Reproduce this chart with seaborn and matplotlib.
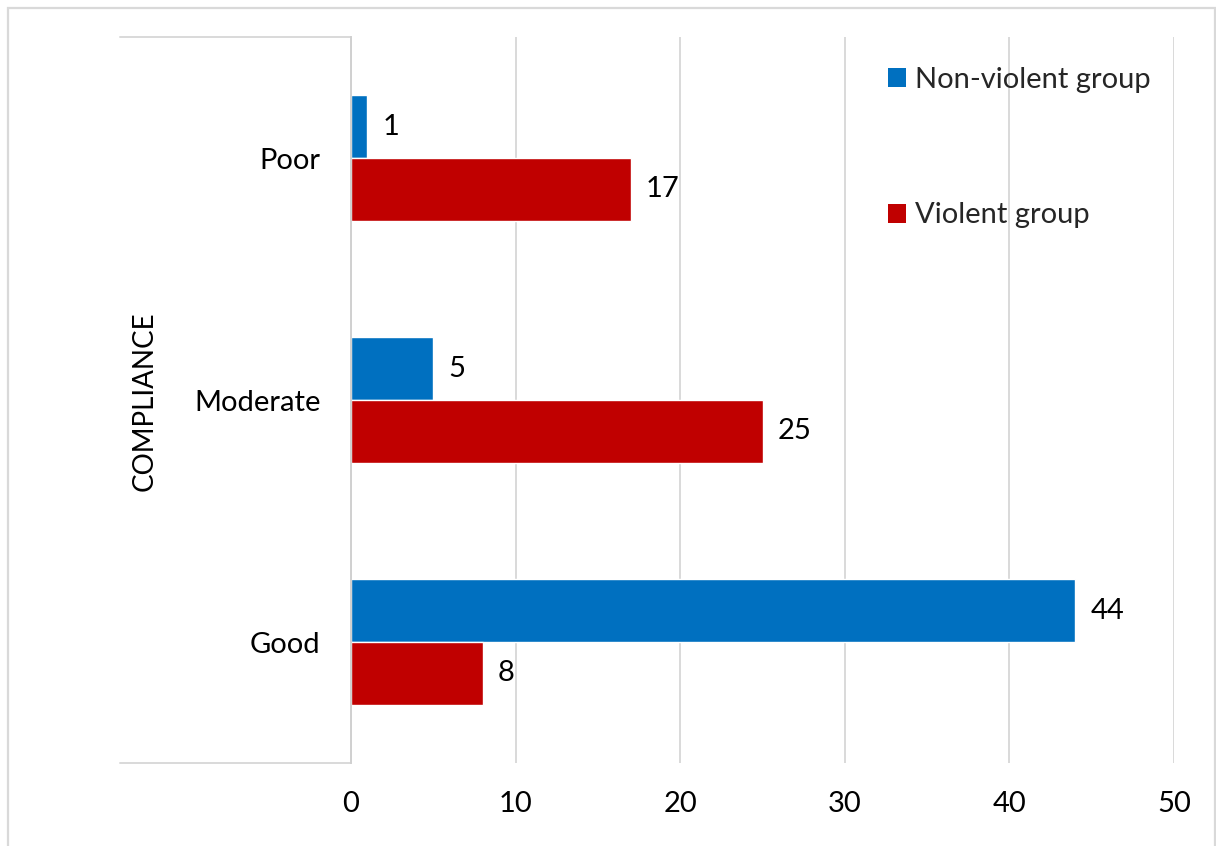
import matplotlib
matplotlib.use("Agg")
import matplotlib.pyplot as plt
import matplotlib.patches as mpatches
import matplotlib.lines as mlines
import seaborn as sns
import pandas as pd

# Compliance levels, listed top to bottom
categories = ["Poor", "Moderate", "Good"]
non_violent = [1, 5, 44]
violent = [17, 25, 8]
groups = ["Non-violent group", "Violent group"]
x_ticks = [0, 10, 20, 30, 40, 50]

colors = {"Non-violent group": "#0070C0", "Violent group": "#C00000"}

df = pd.DataFrame({
    "Compliance": categories * 2,
    "Count": non_violent + violent,
    "Group": [groups[0]] * len(categories) + [groups[1]] * len(categories),
})

sns.set_theme(style="white")
plt.rcParams["font.family"] = ["Lato", "DejaVu Sans"]
FS = 21

fig = plt.figure(figsize=(12.16, 8.46), dpi=100)
ax = fig.add_axes([351 / 1216, 1 - 763 / 846, (1174 - 351) / 1216, (763 - 37) / 846])

sns.barplot(
    data=df, x="Count", y="Compliance", hue="Group",
    order=categories, hue_order=groups, palette=colors,
    orient="h", width=0.52, dodge=True, legend=False,
    saturation=1, ax=ax, errorbar=None,
)

for cont in ax.containers:
    ax.bar_label(cont, padding=11, fontsize=FS, color="black")

ax.set_xlim(0, 50)
ax.set_ylim(2.5, -0.5)
ax.set_xticks(x_ticks)
ax.set_xticklabels([str(t) for t in x_ticks])
ax.tick_params(axis="x", length=0, pad=20, labelsize=FS, labelcolor="black")
ax.tick_params(axis="y", length=0, pad=22, labelsize=FS, labelcolor="black")
ax.set_xlabel("")
ax.set_ylabel("")

ax.xaxis.grid(True, color="#D9D9D9", linewidth=1.4)
ax.yaxis.grid(False)
ax.set_axisbelow(True)
for side in ["top", "right", "bottom"]:
    ax.spines[side].set_visible(False)
ax.spines["left"].set_color("#D0D0D0")
ax.spines["left"].set_linewidth(1.4)

# Category axis bracket lines at top and bottom
x_left = (120 - 351) / (1174 - 351)
for yy in (0, 1):
    ax.add_line(mlines.Line2D([x_left, 0], [yy, yy], transform=ax.transAxes,
                              color="#D9D9D9", linewidth=1.4, clip_on=False))

fig.text(145 / 1216, 1 - 401 / 846, "COMPLIANCE", rotation=90,
         ha="center", va="center", fontsize=20, color="black")

handles = [mpatches.Patch(facecolor=colors[g], edgecolor="none", label=g) for g in groups]
fig.legend(handles=handles, loc="upper left",
           bbox_to_anchor=(888 / 1216, 1 - 67 / 846), bbox_transform=fig.transFigure,
           frameon=False, fontsize=FS, handlelength=0.62, handleheight=0.62,
           handletextpad=0.3, labelspacing=3.75, borderpad=0, borderaxespad=0)

# Light chart-area border
fig.patches.append(mpatches.Rectangle((8 / 1216, -0.05), (1215 - 8) / 1216, 1.05 - 8 / 846,
                                      transform=fig.transFigure, fill=False,
                                      edgecolor="#D9D9D9", linewidth=1.6))

fig.savefig("out.png", dpi=100)
